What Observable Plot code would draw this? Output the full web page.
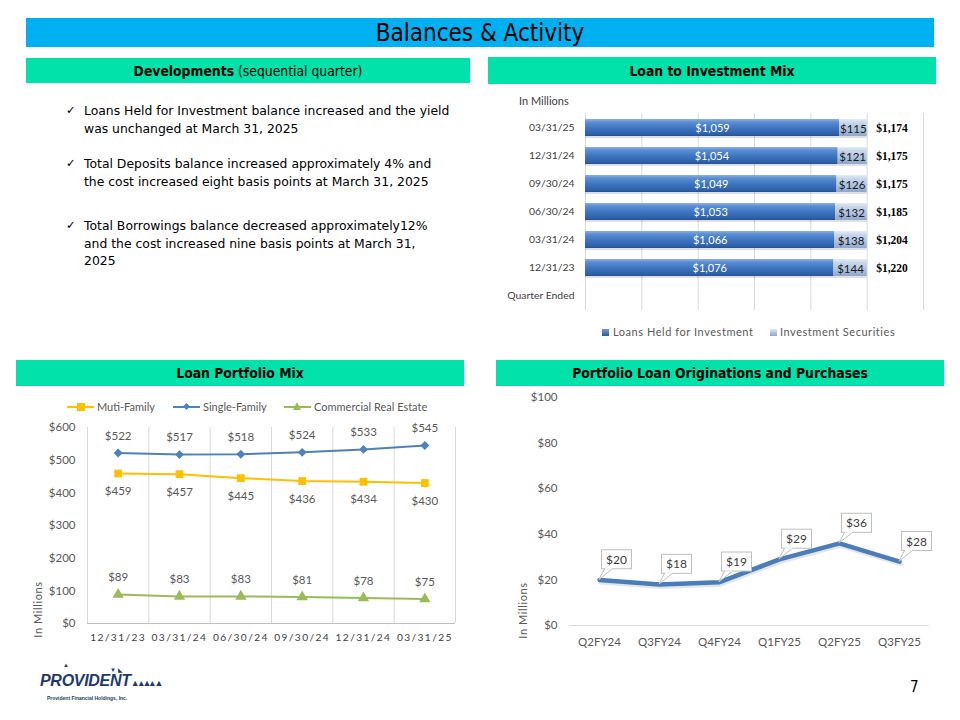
<!DOCTYPE html>
<html><head><meta charset="utf-8">
<script src="https://cdn.jsdelivr.net/npm/d3@7"></script>
<script src="https://cdn.jsdelivr.net/npm/@observablehq/plot@0.6"></script>
<style>
body{margin:0;background:#fff;}
#slide{position:relative;width:960px;height:720px;overflow:hidden;background:#fff;font-family:"Liberation Sans",Arial,sans-serif;}
.abs{position:absolute;}
.title{position:absolute;left:26px;top:18px;width:908px;height:29px;background:#00B0F0;display:flex;align-items:center;justify-content:center;font-family:"DejaVu Sans Condensed","DejaVu Sans",sans-serif;font-size:24px;color:#000;}
.hdr{position:absolute;background:#00E2A9;display:flex;align-items:center;justify-content:center;font-family:"Liberation Sans Narrow","DejaVu Sans Condensed",sans-serif;font-size:13.8px;color:#000;white-space:nowrap;}
.hdr b{font-weight:bold;}
.bul{position:absolute;left:66px;font-family:"DejaVu Sans",sans-serif;font-size:12.4px;line-height:17.5px;color:#000;}
.bul .ck{position:absolute;left:0;top:0;font-family:"DejaVu Sans",sans-serif;font-size:11.5px;}
.bul .tx{margin-left:18px;white-space:nowrap;}
.lab{position:absolute;font-family:Lato,sans-serif;color:#595959;white-space:nowrap;}
.rot{transform:rotate(-90deg);transform-origin:center center;}
.leg{position:absolute;font-family:Lato,sans-serif;font-size:11px;color:#595959;white-space:nowrap;line-height:12px;}
.lline{position:absolute;height:2px;}
svg{position:absolute;overflow:visible;}
</style>
</head><body>
<div id="slide">
  <div class="title">Balances &amp; Activity</div>
  <div class="hdr" style="left:26px;top:58px;width:444px;height:25px;"><b>Developments</b>&nbsp;(sequential quarter)</div>
  <div class="hdr" style="left:488px;top:57px;width:448px;height:27px;"><b>Loan to Investment Mix</b></div>
  <div class="hdr" style="left:16px;top:360px;width:448px;height:26px;"><b>Loan Portfolio Mix</b></div>
  <div class="hdr" style="left:496px;top:360px;width:448px;height:26px;"><b>Portfolio Loan Originations and Purchases</b></div>

  <div class="bul" style="top:102px;"><span class="ck">✓</span><div class="tx">Loans Held for Investment balance increased and the yield<br>was unchanged at March 31, 2025</div></div>
  <div class="bul" style="top:155px;"><span class="ck">✓</span><div class="tx">Total Deposits balance increased approximately 4% and<br>the cost increased eight basis points at March 31, 2025</div></div>
  <div class="bul" style="top:217px;"><span class="ck">✓</span><div class="tx">Total Borrowings balance decreased approximately12%<br>and the cost increased nine basis points at March 31,<br>2025</div></div>

  <div class="lab" style="left:519px;top:94px;font-size:11px;color:#404040;">In Millions</div>

  <div class="leg" style="left:602px;top:326px;letter-spacing:0.55px;"><span style="display:inline-block;width:7px;height:7px;background:linear-gradient(#6F9DDA,#2C5C9E);margin-right:4px;vertical-align:0px;"></span>Loans Held for Investment</div>
  <div class="leg" style="left:770px;top:326px;letter-spacing:0.55px;"><span style="display:inline-block;width:7px;height:7px;background:linear-gradient(#DCE6F2,#8EA7CB);margin-right:3px;vertical-align:0px;"></span>Investment Securities</div>

  <div id="legB"></div>

  <div class="lab rot" style="left:7px;top:603px;width:60px;text-align:center;font-size:11px;letter-spacing:0.6px;">In Millions</div>
  <div class="lab rot" style="left:492px;top:604px;width:60px;text-align:center;font-size:11px;letter-spacing:0.6px;">In Millions</div>

  <div class="abs" style="left:40px;top:672px;font-family:'Liberation Sans',Arial,sans-serif;font-weight:bold;font-style:italic;font-size:16px;color:#1F3A70;letter-spacing:-0.3px;">PROVIDENT<span style="font-size:9px;font-style:normal;letter-spacing:-1px;">▲▴▲▴▲</span></div>
  <div class="abs" style="left:47px;top:695px;font-family:'Liberation Sans',Arial,sans-serif;font-weight:bold;font-size:5px;color:#1F3A70;">Provident Financial Holdings, Inc.</div>
  <div class="abs" style="left:63px;top:662px;font-size:6px;color:#1F3A70;">▲</div>
  <div class="abs" style="left:110px;top:666px;font-size:6px;color:#1F3A70;">▼ ◣</div>
  <div class="abs" style="left:910px;top:678px;font-family:'DejaVu Sans Condensed',sans-serif;font-size:15px;color:#000;">7</div>
</div>
<script>
// ---------- data ----------
const quarters = ["12/31/23","03/31/24","06/30/24","09/30/24","12/31/24","03/31/25"];
const loansHFI = [1076,1066,1053,1049,1054,1059];
const invSecurities = [144,138,132,126,121,115];
const totalBalances = [1220,1204,1185,1175,1175,1174];
const barExtraCategory = "Quarter Ended";
const shareTicks = [0,0.2,0.4,0.6,0.8,1.0,1.2];
const multiFamily = [459,457,445,436,434,430];
const singleFamily = [522,517,518,524,533,545];
const commercialRE = [89,83,83,81,78,75];
const mixTicks = [0,100,200,300,400,500,600];
const origQuarters = ["Q2FY24","Q3FY24","Q4FY24","Q1FY25","Q2FY25","Q3FY25"];
const originations = [20,18,19,29,36,28];
const origTicks = [0,20,40,60,80,100];
const mixSeries = [
  {name:"Muti-Family", color:"#FFC000", symbol:"square"},
  {name:"Single-Family", color:"#4F81BD", symbol:"diamond2"},
  {name:"Commercial Real Estate", color:"#9BBB59", symbol:"triangle"}
];

const slide = document.getElementById("slide");
const fmt = d3.format(",");
const ns = "http://www.w3.org/2000/svg";
const baseStyle = {fontFamily:"Lato, sans-serif", fontSize:"10.5px", color:"#595959", background:"transparent", overflow:"visible"};

function place(svg, left, top){ svg.style.left = left+"px"; svg.style.top = top+"px"; slide.appendChild(svg); }

// ---------- Chart A: Loan to Investment Mix (100% stacked) ----------
const barRows = quarters.map((q,i)=>({q, loans:loansHFI[i], inv:invSecurities[i], total:totalBalances[i], share:loansHFI[i]/totalBalances[i]}));
const barDomain = [...quarters].reverse().concat([barExtraCategory]);
const chartA = Plot.plot({
  width:450, height:260, marginLeft:95, marginRight:17, marginTop:23, marginBottom:40,
  style:baseStyle,
  x:{domain:[0, shareTicks[shareTicks.length-1]], axis:null},
  y:{domain:barDomain, paddingInner:0.4, paddingOuter:0.2, axis:null},
  marks:[
    Plot.ruleX(shareTicks, {stroke:"#D9D9D9"}),
    Plot.barX(barRows, {y:"q", x1:0, x2:1, fill:"#000", fillOpacity:0.12, dy:2}),
    Plot.barX(barRows, {y:"q", x1:0, x2:"share", fill:"url(#gLoan)"}),
    Plot.barX(barRows, {y:"q", x1:"share", x2:1, fill:"url(#gInv)"}),
    Plot.text(barRows, {y:"q", x:d=>d.share/2, text:d=>"$"+fmt(d.loans), fill:"#fff", fontSize:11}),
    Plot.text(barRows, {y:"q", x:d=>(d.share+1)/2, dy:1, text:d=>"$"+d.inv, fill:"#1a1a1a", fontSize:11.5}),
    Plot.text(barRows, {y:"q", x:1, dx:9, textAnchor:"start", text:d=>"$"+fmt(d.total), fontWeight:"bold", fill:"#000", fontFamily:"Liberation Serif, serif", fontSize:11.5}),
    Plot.axisY({tickSize:0, tickPadding:11, fontSize:10.4, color:"#404040", label:null})
  ]
});
const defs = d3.select(chartA).insert("defs", ":first-child");
const gl = defs.append("linearGradient").attr("id","gLoan").attr("x1",0).attr("y1",0).attr("x2",0).attr("y2",1);
[[0,"#8AB2E4"],[0.18,"#5B8ED3"],[0.55,"#3C74C0"],[0.9,"#2E5FA6"],[1,"#24508F"]].forEach(([o,c])=>gl.append("stop").attr("offset",o).attr("stop-color",c));
const gi = defs.append("linearGradient").attr("id","gInv").attr("x1",0).attr("y1",0).attr("x2",0).attr("y2",1);
[[0,"#E4ECF6"],[0.2,"#C9D8EC"],[0.6,"#AFC3E0"],[1,"#8EA7CB"]].forEach(([o,c])=>gi.append("stop").attr("offset",o).attr("stop-color",c));
place(chartA, 490, 90);

// ---------- Chart B: Loan Portfolio Mix ----------
const mixRows = quarters.map((q,i)=>({i, q, mf:multiFamily[i], sf:singleFamily[i], cre:commercialRE[i]}));
const chartB = Plot.plot({
  width:460, height:265, marginLeft:77, marginRight:15, marginTop:32, marginBottom:37,
  style:baseStyle,
  x:{domain:[-0.5, quarters.length-0.5], axis:null},
  y:{domain:[0,600], axis:null},
  marks:[
    Plot.ruleX(d3.range(-0.5, quarters.length, 1), {stroke:"#D9D9D9"}),
    Plot.ruleY([0], {stroke:"#BFBFBF"}),
    Plot.axisY({ticks:mixTicks, tickSize:0, tickPadding:12, tickFormat:d=>"$"+d, fontSize:11.5, label:null}),
    Plot.axisX({ticks:d3.range(quarters.length), tickSize:0, tickPadding:10, tickFormat:i=>quarters[i], fontSize:10.2, color:"#404040", label:null}),
    Plot.line(mixRows, {x:"i", y:"sf", stroke:mixSeries[1].color, strokeWidth:2}),
    Plot.line(mixRows, {x:"i", y:"mf", stroke:mixSeries[0].color, strokeWidth:2}),
    Plot.line(mixRows, {x:"i", y:"cre", stroke:mixSeries[2].color, strokeWidth:2}),
    Plot.dot(mixRows, {x:"i", y:"sf", symbol:mixSeries[1].symbol, r:4, fill:mixSeries[1].color}),
    Plot.dot(mixRows, {x:"i", y:"mf", symbol:mixSeries[0].symbol, r:4.4, fill:mixSeries[0].color}),
    Plot.dot(mixRows, {x:"i", y:"cre", symbol:mixSeries[2].symbol, r:4.2, fill:mixSeries[2].color}),
    Plot.text(mixRows, {x:"i", y:"sf", dy:-17, text:d=>"$"+d.sf, fill:"#595959", fontSize:11.5}),
    Plot.text(mixRows, {x:"i", y:"mf", dy:18, text:d=>"$"+d.mf, fill:"#595959", fontSize:11.5}),
    Plot.text(mixRows, {x:"i", y:"cre", dy:-17, text:d=>"$"+d.cre, fill:"#595959", fontSize:11.5})
  ]
});
d3.select(chartB).selectAll('g[aria-label="x-axis tick label"] text').attr("letter-spacing","1.4px");
place(chartB, 10, 395);

// legend for chart B
const legB = document.getElementById("legB");
const legPos = [67, 173, 284];
mixSeries.forEach((s,k)=>{
  const x0 = legPos[k];
  const line = document.createElement("div");
  line.className = "lline";
  line.style.cssText = `left:${x0}px;top:406px;width:27px;background:${s.color};`;
  legB.appendChild(line);
  const m = document.createElement("div");
  m.className = "abs";
  if (s.symbol === "square") m.style.cssText = `left:${x0+10}px;top:403px;width:8px;height:8px;background:${s.color};`;
  else if (s.symbol === "diamond2") m.style.cssText = `left:${x0+11}px;top:404px;width:5px;height:5px;background:${s.color};transform:rotate(45deg);`;
  else m.style.cssText = `left:${x0+9}px;top:402px;width:0;height:0;border-left:4.5px solid transparent;border-right:4.5px solid transparent;border-bottom:8px solid ${s.color};`;
  legB.appendChild(m);
  const t = document.createElement("div");
  t.className = "leg";
  t.style.cssText = `left:${x0+30}px;top:401px;`;
  t.textContent = s.name;
  legB.appendChild(t);
});

// ---------- Chart C: Portfolio Loan Originations and Purchases ----------
const origRows = origQuarters.map((q,i)=>({q, v:originations[i]}));
const chartC = Plot.plot({
  width:460, height:275, marginLeft:79, marginRight:21, marginTop:12, marginBottom:35,
  style:baseStyle,
  x:{type:"point", domain:origQuarters, padding:0.5, axis:null},
  y:{domain:[0,100], axis:null},
  marks:[
    Plot.ruleY([0], {stroke:"#D9D9D9"}),
    Plot.axisY({ticks:origTicks, tickSize:0, tickPadding:12, tickFormat:d=>"$"+d, fontSize:11.5, label:null}),
    Plot.axisX({tickSize:0, tickPadding:12, fontSize:11.5, label:null}),
    Plot.line(origRows, {x:"q", y:"v", stroke:"#000", strokeOpacity:0.1, strokeWidth:5, dx:1, dy:2}),
    Plot.line(origRows, {x:"q", y:"v", stroke:"#4A7EBB", strokeWidth:4.5}),
    Plot.text(origRows, {x:"q", y:"v", dx:17, dy:-20, text:d=>"$"+d.v, fill:"#404040", fontSize:12})
  ]
});
place(chartC, 490, 385);

// callout boxes behind the labels
(function(){
  const xs = chartC.scale("x"), ys = chartC.scale("y");
  const textG = chartC.querySelector('g[aria-label="text"]');
  const texts = textG.querySelectorAll("text");
  const sr = chartC.getBoundingClientRect();
  const layer = document.createElementNS(ns, "g");
  textG.parentNode.insertBefore(layer, textG);
  texts.forEach((t,i)=>{
    const b = t.getBoundingClientRect();
    const bw = b.width + 9, bh = 19;
    const cx = (b.left + b.right)/2 - sr.left, cy = (b.top + b.bottom)/2 - sr.top;
    const bx = cx - bw/2, by = cy - bh/2;
    const px = xs.apply(origRows[i].q), py = ys.apply(origRows[i].v);
    const poly = document.createElementNS(ns, "polygon");
    poly.setAttribute("points", `${px},${py} ${bx+3},${by+bh} ${bx+11},${by+bh}`);
    poly.setAttribute("fill","#fff"); poly.setAttribute("stroke","#BFBFBF"); poly.setAttribute("stroke-width","1");
    layer.appendChild(poly);
    const r = document.createElementNS(ns, "rect");
    r.setAttribute("x",bx); r.setAttribute("y",by); r.setAttribute("width",bw); r.setAttribute("height",bh);
    r.setAttribute("fill","#fff"); r.setAttribute("stroke","#BFBFBF"); r.setAttribute("stroke-width","1");
    layer.appendChild(r);
    const cover = document.createElementNS(ns, "line");
    cover.setAttribute("x1",bx+3.5); cover.setAttribute("x2",bx+10.5); cover.setAttribute("y1",by+bh); cover.setAttribute("y2",by+bh);
    cover.setAttribute("stroke","#fff"); cover.setAttribute("stroke-width","1.2");
    layer.appendChild(cover);
  });
})();
</script>
</body></html>
